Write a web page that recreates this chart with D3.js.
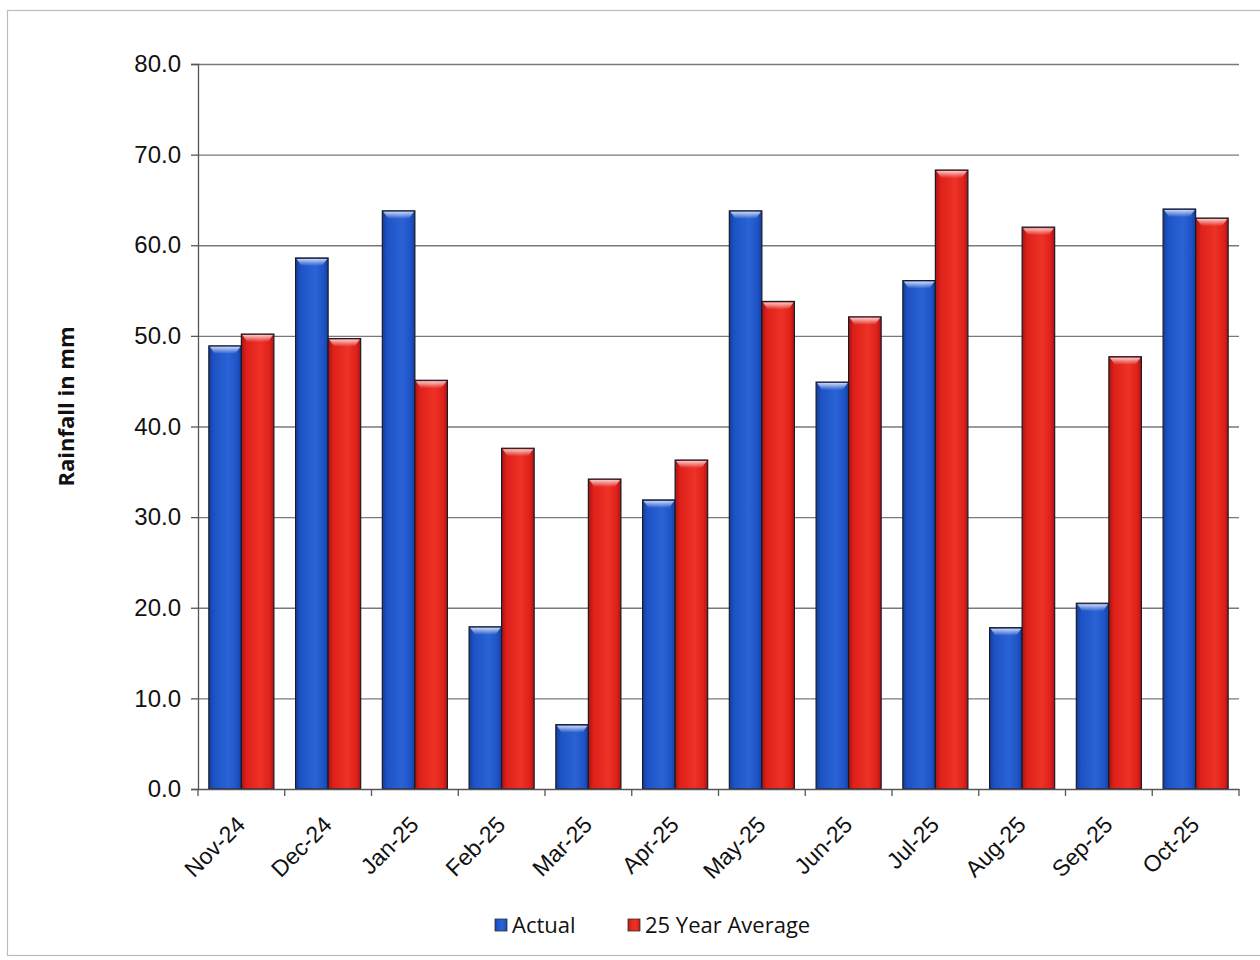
<!DOCTYPE html>
<html>
<head>
<meta charset="utf-8">
<script src="https://cdn.jsdelivr.net/npm/d3@7"></script>
<style>
  html, body { margin: 0; padding: 0; background: #fff; }
  svg { display: block; font-family: "Open Sans", "Lato", sans-serif; }
</style>
</head>
<body>
<svg id="chart" width="1260" height="960"></svg>
<script>
// Monthly rainfall (mm)
const months = ["Nov-24","Dec-24","Jan-25","Feb-25","Mar-25","Apr-25","May-25","Jun-25","Jul-25","Aug-25","Sep-25","Oct-25"];
const actual = [48.9, 58.6, 63.8, 17.9, 7.1, 31.9, 63.8, 44.9, 56.1, 17.8, 20.5, 64.0];
const average25 = [50.2, 49.7, 45.1, 37.6, 34.2, 36.3, 53.8, 52.1, 68.3, 62.0, 47.7, 63.0];
const seriesNames = ["Actual", "25 Year Average"];
const yTicks = [0, 10, 20, 30, 40, 50, 60, 70, 80];

const svg = d3.select("#chart");
const margin = { left: 198, right: 21, top: 64, bottom: 171 };
const W = 1260, H = 960;
const innerW = W - margin.left - margin.right;
const innerH = H - margin.top - margin.bottom;

// chart frame
svg.append("rect").attr("x", 7.5).attr("y", 10.5).attr("width", 1260).attr("height", 945)
  .attr("fill", "none").attr("stroke", "#bdbdbd").attr("stroke-width", 1.2);

const defs = svg.append("defs");
function barGradient(id, dark, mid, light) {
  const g = defs.append("linearGradient").attr("id", id).attr("x1", "0").attr("x2", "1").attr("y1", "0").attr("y2", "0");
  g.append("stop").attr("offset", "0%").attr("stop-color", dark);
  g.append("stop").attr("offset", "15%").attr("stop-color", mid);
  g.append("stop").attr("offset", "60%").attr("stop-color", light);
  g.append("stop").attr("offset", "88%").attr("stop-color", mid);
  g.append("stop").attr("offset", "100%").attr("stop-color", dark);
}
barGradient("gBlue", "#123f9a", "#1d52c4", "#2a63d6");
barGradient("gRed", "#a8140f", "#dd2019", "#ee3226");
const topGrad = defs.append("linearGradient").attr("id", "gTop").attr("x1", 0).attr("x2", 0).attr("y1", 0).attr("y2", 1);
topGrad.append("stop").attr("offset", "0%").attr("stop-color", "#fff").attr("stop-opacity", 0.75);
topGrad.append("stop").attr("offset", "100%").attr("stop-color", "#fff").attr("stop-opacity", 0);

const g = svg.append("g").attr("transform", `translate(${margin.left},${margin.top})`);

const x0 = d3.scaleBand().domain(months).range([0, innerW]).paddingInner(0.25).paddingOuter(0.125);
const x1 = d3.scaleBand().domain(seriesNames).range([0, x0.bandwidth()]).padding(0);
const y = d3.scaleLinear().domain([0, 80]).range([innerH, 0]);

// gridlines
g.append("g").selectAll("line").data(yTicks.filter(d => d > 0)).join("line")
  .attr("x1", 0).attr("x2", innerW)
  .attr("y1", d => y(d) + 0.5).attr("y2", d => y(d) + 0.5)
  .attr("stroke", "#7a7a7a").attr("stroke-width", 1.3);

// bars
const data = months.map((m, i) => ({ month: m, vals: [
  { s: seriesNames[0], v: actual[i], fill: "url(#gBlue)" },
  { s: seriesNames[1], v: average25[i], fill: "url(#gRed)" }
]}));
const groups = g.append("g").selectAll("g").data(data).join("g")
  .attr("transform", d => `translate(${x0(d.month)},0)`);
const bars = groups.selectAll("g").data(d => d.vals).join("g");
bars.append("rect")
  .attr("x", d => x1(d.s)).attr("width", x1.bandwidth())
  .attr("y", d => y(d.v)).attr("height", d => innerH - y(d.v))
  .attr("fill", d => d.fill).attr("stroke", "#1a1a2a").attr("stroke-width", 1.2);
// bevelled top highlight
bars.append("path")
  .attr("d", d => {
    const xl = x1(d.s) + 1, xr = x1(d.s) + x1.bandwidth() - 1, yt = y(d.v) + 1;
    return `M${xl},${yt} L${xr},${yt} L${xr - 5},${yt + 7} L${xl + 5},${yt + 7} Z`;
  })
  .attr("fill", "url(#gTop)");

// y axis
const yAxis = g.append("g").call(d3.axisLeft(y).tickValues(yTicks).tickSize(7).tickPadding(10).tickFormat(d3.format(".1f")));
yAxis.select(".domain").attr("stroke", "#555").attr("stroke-width", 1.3);
yAxis.selectAll(".tick line").attr("stroke", "#555").attr("stroke-width", 1.3);
yAxis.selectAll("text").attr("font-size", 24).attr("fill", "#111");

// x axis
const xAxis = g.append("g").attr("transform", `translate(0,${innerH})`)
  .call(d3.axisBottom(x0).tickSize(0).tickSizeOuter(0));
xAxis.select(".domain").attr("stroke", "#555").attr("stroke-width", 1.3);
// category boundary ticks
xAxis.append("g").selectAll("line").data(d3.range(months.length + 1)).join("line")
  .attr("x1", i => i * x0.step()).attr("x2", i => i * x0.step())
  .attr("y1", 0).attr("y2", 7).attr("stroke", "#555").attr("stroke-width", 1.3);
xAxis.selectAll(".tick text")
  .attr("font-size", 23).attr("fill", "#111")
  .attr("text-anchor", "end")
  .attr("dy", 0)
  .attr("transform", "translate(3,35) rotate(-45)");

// y axis title
svg.append("text")
  .attr("transform", `translate(74,${margin.top + innerH / 2 - 20}) rotate(-90)`)
  .attr("text-anchor", "middle").attr("font-size", 22).attr("font-weight", "bold").attr("fill", "#111")
  .text("Rainfall in mm");

// legend
const legendItems = [
  { name: seriesNames[0], fill: "url(#gBlue)", x: 495 },
  { name: seriesNames[1], fill: "url(#gRed)", x: 628 }
];
const lg = svg.append("g").selectAll("g").data(legendItems).join("g")
  .attr("transform", d => `translate(${d.x},925)`);
lg.append("rect").attr("x", 0).attr("y", -6).attr("width", 12).attr("height", 12)
  .attr("fill", d => d.fill).attr("stroke", "#333").attr("stroke-width", 0.8);
lg.append("text").attr("x", 17).attr("y", 0).attr("dy", "0.35em")
  .attr("font-size", 22).attr("fill", "#111").text(d => d.name);
</script>
</body>
</html>
